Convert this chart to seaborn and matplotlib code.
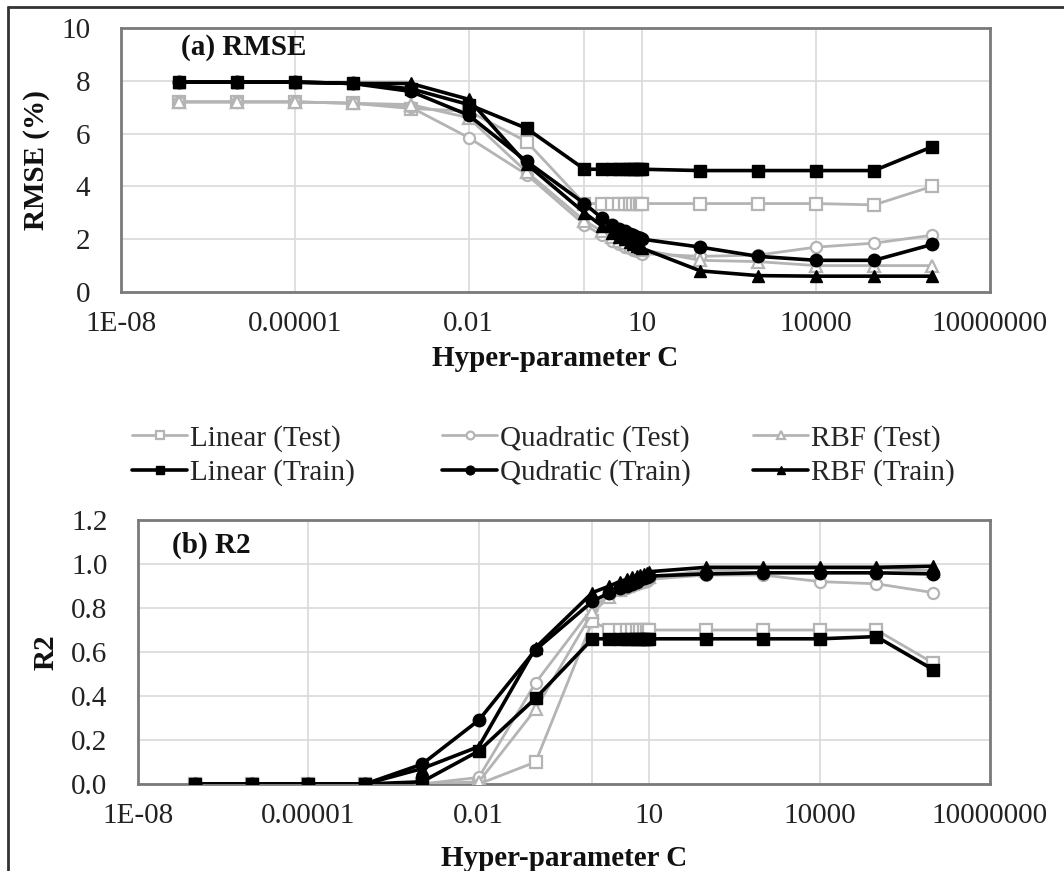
import numpy as np
import pandas as pd
import matplotlib
matplotlib.use("Agg")
import matplotlib.pyplot as plt
from matplotlib.lines import Line2D
import seaborn as sns

# ---------------- data ----------------
C = [1e-7, 1e-6, 1e-5, 1e-4, 1e-3, 1e-2, 1e-1,
     1, 2, 3, 4, 5, 6, 7, 8, 9, 10,
     1e2, 1e3, 1e4, 1e5, 1e6]

rmse_lin_test = [7.2, 7.2, 7.2, 7.15, 6.95, 6.85, 5.7,
                 3.35, 3.35, 3.35, 3.35, 3.35, 3.35, 3.35, 3.35, 3.35, 3.35,
                 3.35, 3.35, 3.35, 3.3, 4.0]
rmse_quad_test = [7.2, 7.2, 7.2, 7.15, 7.0, 5.85, 4.45,
                  2.55, 2.15, 1.95, 1.8, 1.7, 1.65, 1.6, 1.55, 1.5, 1.45,
                  1.35, 1.4, 1.7, 1.85, 2.15]
rmse_rbf_test = [7.2, 7.2, 7.2, 7.15, 7.1, 6.6, 4.55,
                 2.7, 2.3, 2.1, 1.95, 1.85, 1.75, 1.7, 1.65, 1.6, 1.6,
                 1.2, 1.15, 1.0, 1.0, 1.0]
rmse_lin_train = [7.95, 7.95, 7.95, 7.9, 7.7, 7.1, 6.2,
                  4.65, 4.65, 4.65, 4.65, 4.65, 4.65, 4.65, 4.65, 4.65, 4.65,
                  4.6, 4.6, 4.6, 4.6, 5.5]
rmse_quad_train = [7.95, 7.95, 7.95, 7.9, 7.6, 6.7, 4.95,
                   3.35, 2.8, 2.55, 2.4, 2.3, 2.2, 2.15, 2.1, 2.05, 2.0,
                   1.7, 1.35, 1.2, 1.2, 1.8]
rmse_rbf_train = [7.95, 7.95, 7.95, 7.9, 7.9, 7.3, 4.85,
                  3.0, 2.5, 2.25, 2.1, 2.0, 1.9, 1.8, 1.75, 1.7, 1.65,
                  0.8, 0.62, 0.6, 0.6, 0.6]

r2_lin_test = [0, 0, 0, 0, 0, 0.0, 0.10,
               0.74, 0.70, 0.70, 0.70, 0.70, 0.70, 0.70, 0.70, 0.70, 0.70,
               0.70, 0.70, 0.70, 0.70, 0.55]
r2_quad_test = [0, 0, 0, 0, 0, 0.03, 0.46,
                0.80, 0.86, 0.88, 0.89, 0.90, 0.91, 0.915, 0.92, 0.925, 0.93,
                0.95, 0.95, 0.92, 0.91, 0.87]
r2_rbf_test = [0, 0, 0, 0, 0, 0.01, 0.34,
               0.78, 0.85, 0.88, 0.90, 0.91, 0.92, 0.93, 0.935, 0.94, 0.94,
               0.97, 0.98, 0.98, 0.98, 0.97]
r2_lin_train = [0, 0, 0, 0, 0.01, 0.15, 0.39,
                0.66, 0.66, 0.66, 0.66, 0.66, 0.66, 0.66, 0.66, 0.66, 0.66,
                0.66, 0.66, 0.66, 0.67, 0.52]
r2_quad_train = [0, 0, 0, 0, 0.09, 0.29, 0.61,
                 0.83, 0.87, 0.89, 0.90, 0.91, 0.92, 0.93, 0.935, 0.94, 0.945,
                 0.955, 0.96, 0.96, 0.96, 0.955]
r2_rbf_train = [0, 0, 0, 0, 0.07, 0.17, 0.62,
                0.87, 0.90, 0.92, 0.93, 0.94, 0.945, 0.95, 0.955, 0.96, 0.965,
                0.985, 0.985, 0.985, 0.985, 0.99]

series_labels = ["Linear (Test)", "Quadratic (Test)", "RBF (Test)",
                 "Linear (Train)", "Qudratic (Train)", "RBF (Train)"]
x_ticks = [1e-8, 1e-5, 1e-2, 1e1, 1e4, 1e7]
x_ticklabels = ["1E-08", "0.00001", "0.01", "10", "10000", "10000000"]
rmse_ticks = [0, 2, 4, 6, 8, 10]
rmse_ticklabels = ["0", "2", "4", "6", "8", "10"]
r2_ticks = [0.0, 0.2, 0.4, 0.6, 0.8, 1.0, 1.2]
r2_ticklabels = ["0.0", "0.2", "0.4", "0.6", "0.8", "1.0", "1.2"]

# ---------------- style ----------------
sns.set_theme(style="white")
plt.rcParams['font.family'] = ['Liberation Serif', 'DejaVu Serif']
FS = 21

W, H = 1064, 871
fig = plt.figure(figsize=(W / 100, H / 100), dpi=100)


def px_axes(l, t, r, b):
    return fig.add_axes([l / W, 1 - b / H, (r - l) / W, (b - t) / H])


ax1 = px_axes(121, 28, 990, 292)
ax2 = px_axes(138, 520, 990, 784)

GREY = "#b4b4b4"
styles = [
    dict(marker="s", color=GREY, lw=2.0, mfc="white", mec=GREY, ms=8, mew=1.6),
    dict(marker="o", color=GREY, lw=2.0, mfc="white", mec=GREY, ms=8, mew=1.6),
    dict(marker="^", color=GREY, lw=2.0, mfc="white", mec=GREY, ms=8, mew=1.6),
    dict(marker="s", color="black", lw=2.6, mfc="black", mec="black", ms=9, mew=1),
    dict(marker="o", color="black", lw=2.6, mfc="black", mec="black", ms=9, mew=1),
    dict(marker="^", color="black", lw=2.6, mfc="black", mec="black", ms=9, mew=1),
]

rmse_series = [rmse_lin_test, rmse_quad_test, rmse_rbf_test,
               rmse_lin_train, rmse_quad_train, rmse_rbf_train]
r2_series = [r2_lin_test, r2_quad_test, r2_rbf_test,
             r2_lin_train, r2_quad_train, r2_rbf_train]

for ax, series in [(ax1, rmse_series), (ax2, r2_series)]:
    for lab, ys, st in zip(series_labels, series, styles):
        sns.lineplot(x=C, y=ys, ax=ax, label=lab, legend=False, zorder=3,
                     **st)

GRIDC = "#d9d9d9"
for ax in (ax1, ax2):
    ax.set_xscale("log")
    ax.set_xlim(1e-8, 1e7)
    ax.set_xticks(x_ticks)
    ax.set_xticklabels(x_ticklabels)
    ax.xaxis.set_minor_locator(matplotlib.ticker.NullLocator())
    ax.tick_params(axis="both", length=0, labelsize=FS, colors="#222222")
    ax.tick_params(axis="x", pad=14)
    ax.tick_params(axis="y", pad=22)
    ax.grid(True, axis="both", color=GRIDC, lw=1.2, zorder=0)
    ax.axvline(1, color=GRIDC, lw=1.2, zorder=0)
    ax.set_axisbelow(True)
    for sp in ax.spines.values():
        sp.set_color("#7a7a7a")
        sp.set_linewidth(2.0)
        sp.set_visible(True)
    ax.set_xlabel("Hyper-parameter C", fontsize=FS, fontweight="bold",
                  color="#111111")

ax1.set_ylim(0, 10)
ax1.set_yticks(rmse_ticks)
ax1.set_yticklabels(rmse_ticklabels)
ax1.set_ylabel("RMSE (%)", fontsize=FS, fontweight="bold", color="#111111")
ax1.yaxis.set_label_coords(-0.082, 0.5)
ax1.xaxis.set_label_coords(0.5, -0.2)
ax1.text(0.069, 0.925, "(a) RMSE", transform=ax1.transAxes, fontsize=FS,
         fontweight="bold", va="center", ha="left", color="#111111")

ax2.set_ylim(0, 1.2)
ax2.set_yticks(r2_ticks)
ax2.set_yticklabels(r2_ticklabels)
ax2.set_ylabel("R2", fontsize=FS, fontweight="bold", color="#111111")
ax2.yaxis.set_label_coords(-0.092, 0.5)
ax2.xaxis.set_label_coords(0.5, -0.23)
ax2.text(0.04, 0.905, "(b) R2", transform=ax2.transAxes, fontsize=FS,
         fontweight="bold", va="center", ha="left", color="#111111")

# legend: three columns placed like the original
handles, labels = ax1.get_legend_handles_labels()
cols = [(0, 3), (1, 4), (2, 5)]
col_x = [132, 442, 753]
for (i, j), xpx in zip(cols, col_x):
    leg = fig.legend([handles[i], handles[j]], [labels[i], labels[j]],
                     loc="upper left", bbox_to_anchor=(xpx / W, 1 - 425 / H),
                     frameon=False, fontsize=FS, handlelength=1.9,
                     handletextpad=0.1, labelspacing=0.25, borderpad=0,
                     borderaxespad=0, markerscale=0.7)

# outer frame lines (top and left)
fig.add_artist(Line2D([8 / W, 1], [1 - 7 / H, 1 - 7 / H], color="#333333",
                      lw=2, transform=fig.transFigure))
fig.add_artist(Line2D([8 / W, 8 / W], [0, 1 - 7 / H], color="#333333",
                      lw=2, transform=fig.transFigure))

fig.savefig("out.png", dpi=100)
